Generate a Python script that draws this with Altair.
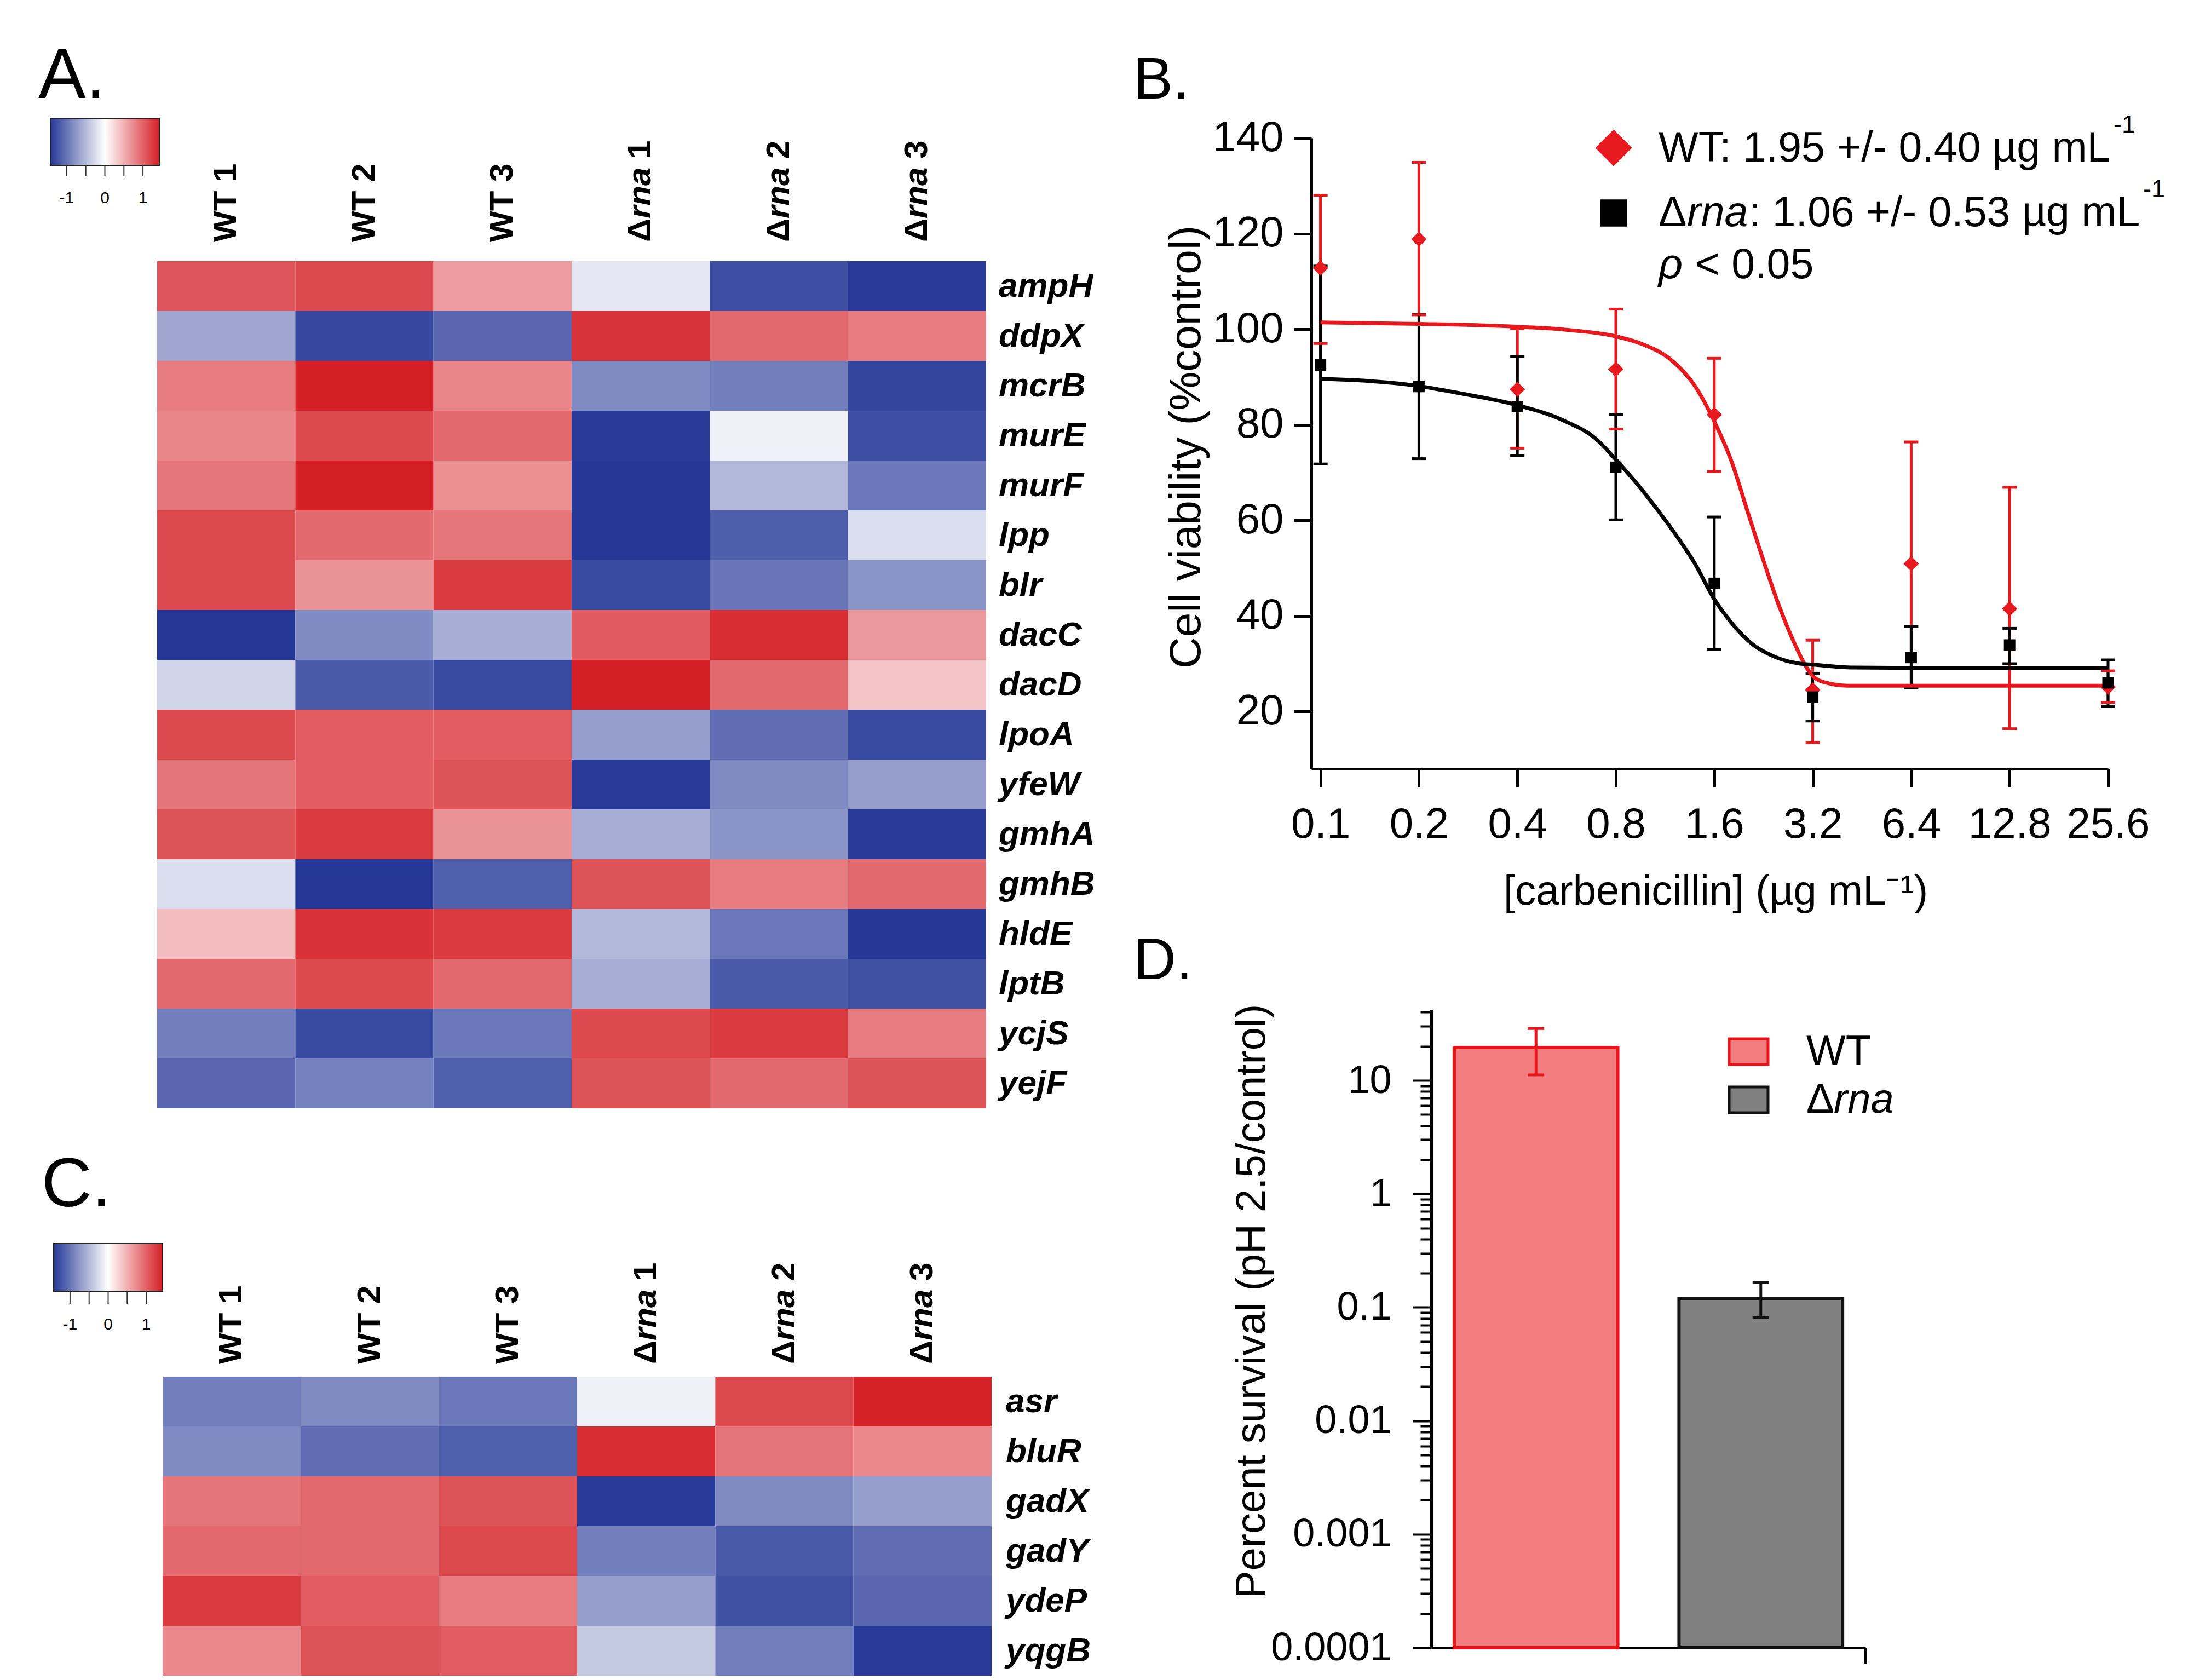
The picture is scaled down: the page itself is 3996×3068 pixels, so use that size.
import altair as alt
import pandas as pd

FONT = "Liberation Sans"
BLUE, WHITE, RED = "#263897", "#FFFFFF", "#D41F26"
B_RED = "#E5191E"

# ---------------- heatmap data ----------------
samples = ["WT 1", "WT 2", "WT 3", "Δrna 1", "Δrna 2", "Δrna 3"]

genes_a = ["ampH", "ddpX", "mcrB", "murE", "murF", "lpp", "blr", "dacC", "dacD",
           "lpoA", "yfeW", "gmhA", "gmhB", "hldE", "lptB", "ycjS", "yejF"]
z_a = [
    [1.09, 1.16, 0.63, -0.18, -1.27, -1.42],
    [-0.63, -1.32, -1.09, 1.30, 0.95, 0.84],
    [0.84, 1.43, 0.77, -0.84, -0.92, -1.34],
    [0.77, 1.16, 0.96, -1.41, -0.10, -1.27],
    [0.87, 1.43, 0.71, -1.43, -0.51, -0.98],
    [1.16, 0.96, 0.87, -1.43, -1.16, -0.24],
    [1.16, 0.69, 1.25, -1.31, -0.99, -0.77],
    [-1.43, -0.84, -0.58, 1.05, 1.35, 0.65],
    [-0.31, -1.19, -1.31, 1.43, 0.95, 0.38],
    [1.16, 1.04, 1.04, -0.70, -1.05, -1.31],
    [0.89, 1.04, 1.10, -1.42, -0.84, -0.70],
    [1.10, 1.25, 0.69, -0.58, -0.77, -1.42],
    [-0.24, -1.43, -1.15, 1.10, 0.84, 0.95],
    [0.43, 1.32, 1.25, -0.51, -0.98, -1.43],
    [0.95, 1.16, 0.95, -0.58, -1.19, -1.26],
    [-0.92, -1.31, -0.98, 1.16, 1.25, 0.84],
    [-1.09, -0.90, -1.15, 1.10, 0.95, 1.10],
]

genes_c = ["asr", "bluR", "gadX", "gadY", "ydeP", "yqgB"]
z_c = [
    [-0.92, -0.84, -0.98, -0.10, 1.16, 1.42],
    [-0.84, -1.05, -1.15, 1.35, 0.89, 0.76],
    [0.89, 0.95, 1.10, -1.41, -0.84, -0.70],
    [0.95, 0.95, 1.16, -0.92, -1.19, -1.05],
    [1.25, 1.04, 0.84, -0.70, -1.26, -1.09],
    [0.76, 1.10, 1.04, -0.38, -0.92, -1.42],
]

legend_ticks = [-1, -0.5, 0, 0.5, 1]
legend_labels = [-1, 0, 1]

# ---------------- dose response data ----------------
conc = [0.1, 0.2, 0.4, 0.8, 1.6, 3.2, 6.4, 12.8, 25.6]
wt_mean = [112.8, 118.8, 87.4, 91.6, 82.1, 24.5, 50.9, 41.5, 25.1]
wt_hi = [128.0, 134.9, 100.1, 104.2, 93.9, 34.9, 76.4, 66.9, 28.5]
wt_lo = [97.0, 103.0, 75.1, 79.1, 70.2, 13.5, 25.1, 16.4, 21.9]
rna_mean = [92.5, 88.0, 83.8, 71.1, 46.8, 23.0, 31.3, 33.9, 26.0]
rna_hi = [113.2, 103.1, 94.3, 82.1, 60.7, 28.0, 37.8, 37.4, 30.8]
rna_lo = [71.8, 72.9, 73.6, 60.1, 33.0, 18.0, 24.9, 30.0, 21.0]

wt_fit_conc = [0.1, 0.2, 0.4, 0.557, 0.8, 0.969, 1.165, 1.40, 1.6, 1.814, 2.026,
               2.264, 2.528, 2.825, 3.04, 3.2, 3.525, 4.087, 6.4, 12.8, 25.6]
wt_fit_val = [101.4, 101.1, 100.5, 99.9, 98.5, 96.8, 93.9, 88.0, 80.7, 72.0, 61.7,
              51.5, 42.0, 34.0, 29.6, 27.4, 26.0, 25.4, 25.4, 25.4, 25.4]
rna_fit_conc = [0.1, 0.2, 0.266, 0.4, 0.557, 0.694, 0.8, 0.969, 1.165, 1.40, 1.6,
                1.814, 2.10, 2.437, 2.93, 3.2, 4.24, 6.4, 12.8, 25.6]
rna_fit_val = [89.6, 88.1, 86.6, 84.1, 80.8, 77.1, 72.7, 66.1, 58.9, 50.8, 43.5,
               38.4, 34.0, 31.5, 30.0, 29.8, 29.2, 29.1, 29.1, 29.1]
b_y_ticks = [20, 40, 60, 80, 100, 120, 140]

# ---------------- acid survival data ----------------
strains = ["WT", "Δrna"]
surv_mean = [19.5, 0.12]
surv_hi = [28.7, 0.166]
surv_lo = [11.2, 0.081]
surv_major = [0.0001, 0.001, 0.01, 0.1, 1, 10]
surv_minor = [0.0002, 0.0003, 0.0004, 0.0005, 0.0006, 0.0007, 0.0008, 0.0009,
              0.002, 0.003, 0.004, 0.005, 0.006, 0.007, 0.008, 0.009,
              0.02, 0.03, 0.04, 0.05, 0.06, 0.07, 0.08, 0.09,
              0.2, 0.3, 0.4, 0.5, 0.6, 0.7, 0.8, 0.9,
              2, 3, 4, 5, 6, 7, 8, 9, 20, 30, 40]

W, H = 3976, 3054
one = pd.DataFrame({"k": [0]})


def label(txt, x, y, size, style="normal", weight="normal", align="left",
          baseline="alphabetic", color="black"):
    return alt.Chart(one).mark_text(
        text=txt, fontSize=size, fontStyle=style, fontWeight=weight, align=align,
        baseline=baseline, color=color, font=FONT
    ).encode(x=alt.value(x), y=alt.value(y))


def heatmap(genes, z, x_rng, y_rng, col_y, row_x, leg_x, leg_y, leg_thick, leg_off):
    cells = pd.DataFrame([{"gene": g, "sample": s, "z": v}
                          for g, row in zip(genes, z) for s, v in zip(samples, row)])
    xs = alt.Scale(domain=samples, range=x_rng, paddingInner=0, paddingOuter=0)
    ys = alt.Scale(domain=genes, range=y_rng, paddingInner=0, paddingOuter=0)
    X = alt.X("sample:N", scale=xs, axis=None)
    Y = alt.Y("gene:N", scale=ys, axis=None)
    cscale = alt.Scale(domain=[-1.43, 0, 1.43], range=[BLUE, WHITE, RED],
                       interpolate="rgb", clamp=True)
    leg = alt.Legend(orient="none", legendX=leg_x, legendY=leg_y, direction="horizontal",
                     gradientLength=199, gradientThickness=leg_thick,
                     gradientStrokeColor="#222222", gradientStrokeWidth=2,
                     values=legend_labels, labelExpr="'' + datum.value",
                     labelFontSize=30, labelOffset=leg_off, labelFont=FONT,
                     labelColor="black", title=None, padding=0)
    rect = alt.Chart(cells).mark_rect().encode(
        x=X, y=Y, color=alt.Color("z:Q", scale=cscale, legend=leg))
    rows = alt.Chart(pd.DataFrame({"gene": genes})).mark_text(
        align="left", baseline="middle", fontSize=62, fontWeight="bold",
        fontStyle="italic", font=FONT, color="black"
    ).encode(y=Y, x=alt.value(row_x), text="gene:N")
    cols = pd.DataFrame({"sample": samples})
    wt = cols[cols["sample"].str.startswith("WT")]
    dl = cols[~cols["sample"].str.startswith("WT")].copy()
    dl["pre"] = dl["sample"].str.slice(0, 1)
    dl["mid"] = dl["sample"].str.slice(1, 4)
    dl["post"] = dl["sample"].str.split(" ").str[1]
    tk = dict(angle=270, align="left", baseline="middle", fontSize=60,
              fontWeight="bold", font=FONT, color="black")
    wt_t = alt.Chart(wt).mark_text(**tk).encode(x=X, y=alt.value(col_y), text="sample:N")
    d1 = alt.Chart(dl).mark_text(**tk).encode(x=X, y=alt.value(col_y), text="pre:N")
    d2 = alt.Chart(dl).mark_text(fontStyle="italic", dx=43, **tk).encode(
        x=X, y=alt.value(col_y), text="mid:N")
    d3 = alt.Chart(dl).mark_text(dx=152, **tk).encode(x=X, y=alt.value(col_y), text="post:N")
    return alt.layer(rect, rows, wt_t, d1, d2, d3)


def legend_tick_layer(x_rng, y0, y1):
    return alt.Chart(pd.DataFrame({"t": legend_ticks})).mark_rule(
        color="#333333", strokeWidth=2
    ).encode(x=alt.X("t:Q", scale=alt.Scale(domain=[-1.43, 1.43], range=x_rng), axis=None),
             y=alt.value(y0), y2=alt.value(y1))


panel_a = heatmap(genes_a, z_a, [279, 1793], [469, 2016], 434, 1816, 84, 208, 86, 45)
panel_c = heatmap(genes_c, z_c, [289, 1803], [2506, 3052], 2483, 1829, 90, 2263, 87, 46)
ticks_a = legend_tick_layer([84, 283], 294, 314)
ticks_c = legend_tick_layer([90, 289], 2350, 2373)

# ---------------- panel B ----------------
pts = pd.DataFrame({
    "conc": conc + conc,
    "mean": wt_mean + rna_mean,
    "hi": wt_hi + rna_hi,
    "lo": wt_lo + rna_lo,
    "strain": ["WT"] * len(conc) + ["Δrna"] * len(conc),
})
fit = pd.DataFrame({
    "conc": wt_fit_conc + rna_fit_conc,
    "fit": wt_fit_val + rna_fit_val,
    "strain": ["WT"] * len(wt_fit_conc) + ["Δrna"] * len(rna_fit_conc),
})
xB_scale = alt.Scale(type="log", base=2, domain=[0.0938, 25.6], range=[2387, 3842])
yB_scale = alt.Scale(domain=[8, 140], range=[1396, 244])
xB_axis = alt.Axis(orient="bottom", offset=1396 - H, values=conc,
                   labelExpr="'' + datum.value", tickSize=33, tickWidth=5,
                   domainWidth=5, labelFontSize=78, labelPadding=30, labelFlush=False,
                   labelOverlap=False, labelLimit=0, title="[carbenicillin] (µg mL⁻¹)",
                   titleFontSize=76, titleFontWeight="normal", titleX=3125, titleY=247,
                   titleBaseline="alphabetic", titleAlign="center", grid=False)
yB_axis = alt.Axis(orient="left", offset=-2387, values=b_y_ticks, tickSize=32, tickWidth=5,
                   domainWidth=5, labelFontSize=78, labelPadding=19, labelFlush=False,
                   labelLimit=0, title="Cell viability (%control)", titleFontSize=80,
                   titleFontWeight="normal", titleX=-204, titleY=808, titleAngle=270,
                   titleBaseline="alphabetic", titleAlign="center", grid=False)
XB = alt.X("conc:Q", scale=xB_scale, axis=xB_axis)


def YB(f):
    return alt.Y(f + ":Q", scale=yB_scale, axis=yB_axis)


CB = alt.Color("strain:N", scale=alt.Scale(domain=strains, range=[B_RED, "#000000"]), legend=None)
b_err = alt.Chart(pts).mark_rule(strokeWidth=5).encode(x=XB, y=YB("lo"), y2="hi:Q", color=CB)
b_caph = alt.Chart(pts).mark_tick(orient="horizontal", size=26, thickness=5, opacity=1).encode(
    x=XB, y=YB("hi"), color=CB)
b_capl = alt.Chart(pts).mark_tick(orient="horizontal", size=26, thickness=5, opacity=1).encode(
    x=XB, y=YB("lo"), color=CB)
b_line = alt.Chart(fit).mark_line(strokeWidth=7, interpolate="monotone").encode(
    x=XB, y=YB("fit"), color=CB, detail="strain:N")
b_wt = alt.Chart(pts).transform_filter(alt.datum.strain == "WT").mark_point(
    shape="diamond", size=784, filled=True, opacity=1, color=B_RED).encode(x=XB, y=YB("mean"))
b_rna = alt.Chart(pts).transform_filter(alt.datum.strain == "Δrna").mark_point(
    shape="square", size=441, filled=True, opacity=1, color="#000000").encode(x=XB, y=YB("mean"))
panel_b = alt.layer(b_err, b_caph, b_capl, b_line, b_wt, b_rna)

b_leg = [
    alt.Chart(one).mark_point(shape="diamond", size=4489, filled=True, opacity=1,
                              color=B_RED).encode(x=alt.value(2939), y=alt.value(262)),
    alt.Chart(one).mark_point(shape="square", size=2450, filled=True, opacity=1,
                              color="#000000").encode(x=alt.value(2939), y=alt.value(381)),
    label("WT: 1.95 +/- 0.40 µg mL", 3021, 287, 77),
    label("-1", 3852, 234, 45),
    label("Δ", 3021, 405, 77),
    label("rna", 3073, 405, 77, style="italic"),
    label(": 1.06 +/- 0.53 µg mL", 3186, 405, 77),
    label("-1", 3906, 352, 45),
    label("ρ", 3021, 500, 77, style="italic"),
    label("< 0.05", 3088, 500, 77),
]

# ---------------- panel D ----------------
surv = pd.DataFrame({"strain": strains, "mean": surv_mean, "hi": surv_hi, "lo": surv_lo})
MAJOR = "indexof([0.0001,0.001,0.01,0.1,1,10], datum.value) >= 0"
yD_scale = alt.Scale(type="log", domain=[0.0001, 42], range=[3001, 1836])
yD_axis = alt.Axis(orient="left", offset=-2606, values=surv_major + surv_minor,
                   tickSize={"condition": {"test": MAJOR, "value": 34}, "value": 20},
                   tickWidth=4, domainWidth=5,
                   labelExpr=MAJOR + " ? format(datum.value, '~g') : ''",
                   labelFontSize=72, labelPadding=39, labelFlush=False, labelOverlap=False,
                   labelLimit=0,
                   title="Percent survival (pH 2.5/control)", titleFontSize=76,
                   titleFontWeight="normal", titleX=-305, titleY=2368, titleAngle=270,
                   titleBaseline="alphabetic", titleAlign="center", grid=False)
xD_axis = alt.Axis(orient="bottom", offset=3001 - H, ticks=False, labels=False,
                   domainWidth=5, title=None, grid=False)
XD = alt.X("strain:N", scale=alt.Scale(domain=strains, range=[2606, 3399],
                                        paddingInner=0.2725, paddingOuter=0.102), axis=xD_axis)


def YD(f):
    return alt.Y(f + ":Q", scale=yD_scale, axis=yD_axis)


edge = alt.Scale(domain=strains, range=["#E8141C", "#111111"])
d_bar = alt.Chart(surv).mark_bar(strokeWidth=6).encode(
    x=XD, y=YD("mean"), y2=alt.datum(0.0001),
    fill=alt.Fill("strain:N", scale=alt.Scale(domain=strains, range=["#F27E7F", "#808080"]),
                  legend=None),
    stroke=alt.Stroke("strain:N", scale=edge, legend=None))
d_err = alt.Chart(surv).mark_rule(strokeWidth=5).encode(
    x=XD, y=YD("lo"), y2="hi:Q", stroke=alt.Stroke("strain:N", scale=edge, legend=None))
d_caph = alt.Chart(surv).mark_tick(orient="horizontal", size=30, thickness=5, opacity=1).encode(
    x=XD, y=YD("hi"), color=alt.Color("strain:N", scale=edge, legend=None))
d_capl = alt.Chart(surv).mark_tick(orient="horizontal", size=30, thickness=5, opacity=1).encode(
    x=XD, y=YD("lo"), color=alt.Color("strain:N", scale=edge, legend=None))
panel_d = alt.layer(d_bar, d_err, d_caph, d_capl)

d_extra = [
    alt.Chart(one).mark_rule(color="black", strokeWidth=5).encode(
        x=alt.value(3399), y=alt.value(3001), y2=alt.value(3030)),
    alt.Chart(one).mark_rect(fill="#F27E7F", stroke="#E8141C", strokeWidth=5).encode(
        x=alt.value(3150), x2=alt.value(3221), y=alt.value(1889), y2=alt.value(1936)),
    alt.Chart(one).mark_rect(fill="#808080", stroke="#111111", strokeWidth=5).encode(
        x=alt.value(3150), x2=alt.value(3221), y=alt.value(1977), y2=alt.value(2024)),
    label("WT", 3291, 1936, 76),
    label("Δ", 3291, 2024, 76),
    label("rna", 3341, 2024, 76, style="italic"),
]

letters = [
    label("A.", 62, 171, 130),
    label("C.", 68, 2195, 127),
    label("B.", 2062, 172, 108),
    label("D.", 2062, 1780, 108),
]

chart = alt.layer(
    panel_a, panel_c, ticks_a, ticks_c, panel_b, panel_d, *b_leg, *d_extra, *letters
).resolve_scale(
    x="independent", y="independent", color="independent",
    fill="independent", stroke="independent"
).properties(
    width=W, height=H, padding=0, autosize=alt.AutoSizeParams(type="none")
).configure_view(
    stroke=None
).configure_axis(
    labelFont=FONT, titleFont=FONT, labelColor="black", titleColor="black",
    domainColor="black", tickColor="black"
).configure_text(font=FONT)

chart.save("out.html", embed_options={"renderer": "svg", "actions": False})
